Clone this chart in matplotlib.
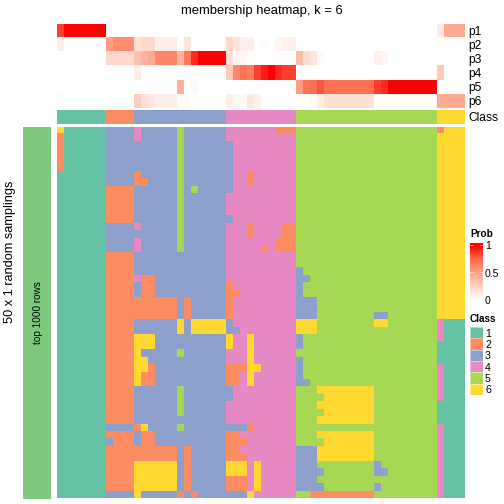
import numpy as np
import matplotlib
matplotlib.use("Agg")
import matplotlib.pyplot as plt
from matplotlib.colors import LinearSegmentedColormap, ListedColormap, BoundaryNorm

plt.rcParams["font.family"] = ["Liberation Sans", "DejaVu Sans"]

class_colors = ["#66C2A5", "#FC8D62", "#8DA0CB", "#E78AC3", "#A6D854", "#FFD92F"]
class_labels = ["1", "2", "3", "4", "5", "6"]
prob_names = ["p1", "p2", "p3", "p4", "p5", "p6"]
prob_ticks = [1, 0.5, 0]

# final class of each column
column_class = [1] * 7 + [2] * 4 + [3] * 13 + [4] * 10 + [5] * 20 + [6] * 4

# groups are columns 0 | 1-6 | 7-10 | 11-23 | 24-33 | 34-53 | 54-57
sampling_rows = [
    "6 111111 3333 4333335333333 4444444222 55555555555555555555 2666",
    "2 111111 3333 4333335333333 4444444444 55555555555555555555 6666",
    "2 111111 3333 3333335333333 3444444444 55555555555555555555 6666",
    "2 111111 3333 3333335333333 3444444444 55555555555555555555 6666",
    "2 111111 3333 3333335333333 3444444444 55555555555555555555 6666",
    "2 111111 3333 3333335333333 3444444444 55555555555555555555 6666",
    "1 111111 3333 2333335333333 3442444444 55555555555555555555 6666",
    "1 111111 3333 2233335333333 3442444444 55555555555555555555 6666",
    "1 111111 2222 3333335353333 3444444444 55555555555555555555 6666",
    "1 111111 2222 3333335333333 4444444444 55555555555555555555 6666",
    "1 111111 2222 3333335333333 4444444444 55555555555555555555 6666",
    "1 111111 2222 3333335333333 4444444444 55555555555555555555 6666",
    "1 111111 2222 3333335333333 3444444444 55555555555555555555 6666",
    "1 111111 3333 4333335333333 4442444422 55555555555555555555 6666",
    "1 111111 3333 3333335333333 4442444422 55555555555555555555 6666",
    "1 111111 3333 4333335333333 4444444222 55555555555555555555 6666",
    "1 111111 3333 4333335333333 4444424222 55555555555555555555 6666",
    "1 111111 2222 3333333333333 4444444444 55555555555555555555 6666",
    "1 111111 2222 3333333333333 4444444444 55555555555555555555 6666",
    "1 111111 2222 3333333333333 4444444444 35555555555555555555 6666",
    "1 111111 2222 4223333333333 4444444444 33555555555555555555 6666",
    "1 111111 2222 3223333333333 2444444444 35555555555555555555 6666",
    "1 111111 2222 3223333333333 2244444444 35555555555555555555 6666",
    "1 111111 2222 2222223233333 2444444444 33355555555555555555 6666",
    "1 111111 2222 2222223233333 2444444444 33355555555555555555 6666",
    "1 111111 2222 2222223233333 2444444444 33355555555335555555 6666",
    "1 111111 2222 3333336366666 3444444444 66655555555665555555 4111",
    "1 111111 2222 3333336366666 3344444444 66655555555555555555 4111",
    "1 111111 2222 6663333333333 6446444444 35555555555555555555 4111",
    "1 111111 2222 6663333333333 6446444444 35555555555555555555 1111",
    "1 111111 2222 6333335333333 4446444444 55555555555555555555 1111",
    "1 111111 2222 6633333333333 4446444444 35555555555555555555 1111",
    "1 111111 2222 6623333333333 2226644444 35555555555555555555 4111",
    "1 111111 2222 6223333333333 2246444444 35555555555555555555 4111",
    "1 111111 2222 6223333333333 2246444444 33555555555555555555 4111",
    "1 111111 2222 3333335333333 3444444444 55566666666555555555 4111",
    "1 111111 2222 3333335333333 3444444444 55556666666555555555 4111",
    "1 111111 2222 3333335333333 4444444444 55566666666555555555 1111",
    "1 111111 2222 3333335333333 4444444444 55556666666555555555 1111",
    "1 111111 2222 3333333333333 4444444444 55566666666555555555 1111",
    "1 111111 3333 2633335333333 3332444444 55555555555555555555 4111",
    "1 111111 2222 3223333333333 2244444444 55566666666555555555 4111",
    "1 111111 3222 3223333333333 2224444444 55556666666555555555 4111",
    "1 111111 2222 2222223233333 2244444444 33366666666555555555 4111",
    "1 111111 2222 2222223233333 2224444444 33366666666555555555 4111",
    "1 111111 2222 6666663233333 6664644444 33355555555355555555 4111",
    "1 111111 2222 6666663233333 6664644444 33335555555335555555 4111",
    "1 111111 2222 6666663233333 2224644444 33355555555555555555 4111",
    "1 111111 2222 6666663233333 2224644444 33335555555355555555 4111",
    "1 111111 3333 6333332323333 3336444444 55222222222555555555 4111",
]

p1 = [.85] + [1] * 6 + [0] * 47 + [.12, .45, .45, .45]
p2 = [.1] + [0] * 6 + [.5, .58, .58, .58, .18, .22, .22, .1, .1, .1, 0, .15] + [0] * 5 \
    + [.22, .15, .08, .08, 0, .02, 0, .05, .08, .08] + [0] * 20 + [.02, 0, 0, 0]
p3 = [0] * 7 + [.22, .22, .22, .22, .33, .4, .45, .62, .62, .62, .4, .68, .9, 1, 1, 1, 1] \
    + [.18, .04, .04] + [0] * 7 + [.35, .2, .15, .03] + [0] * 7 + [.08, .05] + [0] * 11
p4 = [0] * 11 + [.1] + [0] * 12 + [.3, .6, .7, .65, .85, .93, 1, .9, .85, .85] \
    + [0] * 20 + [.3, 0, 0, 0]
p5 = [0] * 17 + [.42, 0, .03] + [0] * 14 + [.5, .7, .72, .8] + [.72] * 7 \
    + [.85, .9] + [1] * 7 + [0] * 4
p6 = [.02] + [0] * 10 + [.27, .18, .13, .1, .1, .1, .02, .03] + [0] * 5 \
    + [.1, .05, .03, .13, .08] + [0] * 7 + [.02, .1] + [.17] * 7 + [0] * 9 + [.45] * 4

W = H = 504
prob_cmap = LinearSegmentedColormap.from_list(
    "prob", [(0, "#FFFFFF"), (.25, "#FFD2C4"), (.5, "#FF9F85"), (.75, "#FF6A4B"), (1, "#FF0000")])
class_cmap = ListedColormap(class_colors)
class_norm = BoundaryNorm(np.arange(0.5, 7.5), 6)


def px_axes(fig, x0, y0, x1, y1):
    # pixel box measured from the top left of the picture
    ax = fig.add_axes([x0 / W, 1 - y1 / H, (x1 - x0) / W, (y1 - y0) / H])
    ax.set_axis_off()
    return ax


def main():
    fig = plt.figure(figsize=(7, 7), dpi=72)

    prob = np.array([p1, p2, p3, p4, p5, p6], dtype=float)
    ax = px_axes(fig, 57, 24, 465, 108.5)
    ax.imshow(prob, aspect="auto", cmap=prob_cmap, vmin=0, vmax=1, interpolation="nearest")
    for i, name in enumerate(prob_names):
        ax.text(1.0075, (5.5 - i) / 6 - .012, name, transform=ax.transAxes, va="center", ha="left", fontsize=12)

    ax = px_axes(fig, 57, 110, 465, 124)
    ax.imshow(np.array([column_class]), aspect="auto", cmap=class_cmap, norm=class_norm, interpolation="nearest")
    ax.text(1.0075, 0.4, "Class", transform=ax.transAxes, va="center", ha="left", fontsize=12)

    rows = [[int(c) for c in r.replace(" ", "")] for r in sampling_rows]
    ax = px_axes(fig, 57, 127, 465, 498.5)
    ax.imshow(np.array(rows), aspect="auto", cmap=class_cmap, norm=class_norm, interpolation="nearest")

    ax = px_axes(fig, 23, 127, 51, 498.5)
    ax.set_facecolor("#7FC97F")
    ax.set_axis_on()
    ax.set_xticks([])
    ax.set_yticks([])
    for s in ax.spines.values():
        s.set_visible(False)
    ax.text(0.54, 0.5, "top 1000 rows", transform=ax.transAxes, rotation=90, va="center", ha="center", fontsize=10)

    fig.text(10 / W, 1 - 252 / H, "50 x 1 random samplings", rotation=90, va="center", ha="center", fontsize=12.8)
    fig.text(261.5 / W, 1 - 11 / H, "membership heatmap, k = 6", va="center", ha="center", fontsize=13)

    # probability legend
    fig.text(470 / W, 1 - 234 / H, "Prob", va="center", ha="left", fontsize=10, fontweight="bold")
    ax = px_axes(fig, 470, 243, 482.5, 300)
    ymax = 1.036
    ax.imshow(np.linspace(ymax, 0, 100)[:, None], aspect="auto", cmap=prob_cmap, vmin=0, vmax=1,
              extent=[0, 1, 0, ymax])
    for t in prob_ticks:
        ax.plot([0, .2], [t, t], color="white", lw=0.7, alpha=.7)
        ax.plot([.8, 1], [t, t], color="white", lw=0.7, alpha=.7)
        ax.text(1.2, t - .025, str(t), va="center", ha="left", fontsize=10.5, clip_on=False)
    ax.set_xlim(0, 1)
    ax.set_ylim(0, ymax)

    # class legend
    fig.text(470 / W, 1 - 318.5 / H, "Class", va="center", ha="left", fontsize=10, fontweight="bold")
    ax = px_axes(fig, 470, 327, 482.5, 395)
    ax.imshow(np.arange(1, 7)[:, None], aspect="auto", cmap=class_cmap, norm=class_norm, interpolation="nearest")
    ax.hlines(np.arange(-.5, 6.5), -.5, .5, color="white", lw=0.8, alpha=.6)
    ax.vlines([-.5, .5], -.5, 5.5, color="white", lw=0.8, alpha=.6)
    for i, label in enumerate(class_labels):
        ax.text(1.2, (5.5 - i) / 6 - .015, label, transform=ax.transAxes, va="center", ha="left", fontsize=10.5)

    fig.savefig("out.png", dpi=72)


if __name__ == "__main__":
    main()
